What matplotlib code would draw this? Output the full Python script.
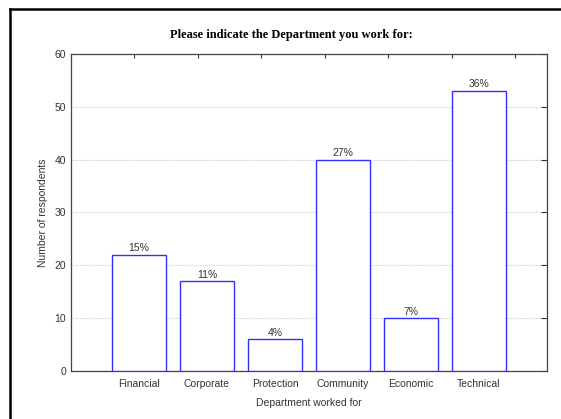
import numpy as np
import matplotlib
matplotlib.use("Agg")
import matplotlib.pyplot as plt
from matplotlib.lines import Line2D

departments = ["Financial", "Corporate", "Protection", "Community", "Economic", "Technical"]
respondents = [22, 17, 6, 40, 10, 53]
percent_labels = ["15%", "11%", "4%", "27%", "7%", "36%"]

plt.rcParams['font.family'] = ['Liberation Sans', 'DejaVu Sans']

fig = plt.figure(figsize=(5.61, 4.19), dpi=100)
ax = fig.add_axes([71/561, 1-371/419, 476/561, 317/419])

pos = np.arange(1, len(departments)+1)
bars = ax.bar(pos, respondents, width=0.8, color="white", edgecolor="#3030ff", linewidth=1.0, zorder=3)
for b, lab in zip(bars, percent_labels):
    ax.text(b.get_x() + b.get_width()/2, b.get_height() + 0.3, lab,
            ha="center", va="bottom", fontsize=7.5, color="#333333")

ax.set_xlim(0, 7)
ax.set_ylim(0, 60)
ax.set_yticks(range(0, 61, 10))
ax.set_xticks(pos)
ax.set_xticklabels(departments)
ax.yaxis.grid(True, linestyle=(0, (1, 1)), color="#d8c8d8", linewidth=0.8, zorder=0)
ax.tick_params(axis="both", labelsize=7.5, colors="#333333", direction="in", length=3)
ax.tick_params(axis="y", left=False, right=True, length=4)
ax.tick_params(axis="x", top=False, bottom=True, length=3, pad=6)
# small ticks along the top edge
top = ax.secondary_xaxis("top", functions=(lambda v: v * 7.5 / 7, lambda v: v * 7 / 7.5))
top.set_xticks(np.arange(0, 7.6, 1))
top.tick_params(direction="in", length=3, labeltop=False, colors="#333333")
top.spines["top"].set_visible(False)
for s in ax.spines.values():
    s.set_color("#444444")
    s.set_linewidth(0.9)

ax.set_xlabel("Department worked for", fontsize=7.5, color="#333333", labelpad=6)
ax.set_ylabel("Number of respondents", fontsize=7.5, color="#333333", labelpad=5)
fig.text(0.52, 1-35/419, "Please indicate the Department you work for:",
         ha="center", va="center", fontsize=9, fontweight="bold",
         family="Liberation Serif")

# frame around the figure (left and top edges)
fig.add_artist(Line2D([10/561, 10/561], [0, 1-9/419], color="black", linewidth=1.8))
fig.add_artist(Line2D([10/561, 1], [1-9/419, 1-9/419], color="black", linewidth=1.8))

fig.savefig("out.png", dpi=100)
